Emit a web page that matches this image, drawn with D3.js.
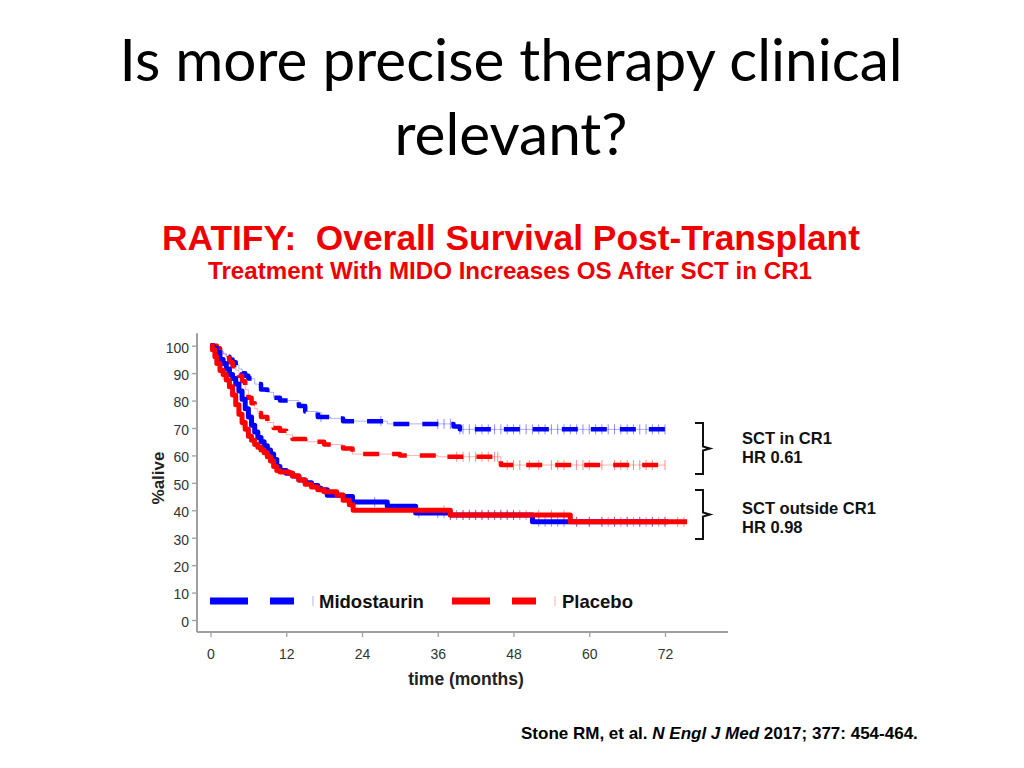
<!DOCTYPE html>
<html><head><meta charset="utf-8">
<script src="https://cdn.jsdelivr.net/npm/d3@7"></script>
<style>body{margin:0;background:#fff}</style>
</head><body>
<svg id="c" width="1024" height="768"></svg>
<script>
// ---------- data ----------
const titleLines = ["Is more precise therapy clinical", "relevant?"];
const subTitle = "RATIFY:  Overall Survival Post-Transplant";
const subTitle2 = "Treatment With MIDO Increases OS After SCT in CR1";
const xTicks = [0, 12, 24, 36, 48, 60, 72];
const yTicks = [0, 10, 20, 30, 40, 50, 60, 70, 80, 90, 100];
const xLabel = "time (months)";
const yLabel = "%alive";
const seriesNames = ["Midostaurin", "Placebo"];
const groupLabels = [["SCT in CR1", "HR 0.61"], ["SCT outside CR1", "HR 0.98"]];

// Midostaurin, SCT in CR1 (blue dashed)
const midoCR1Times = [0, 0.5, 1, 1.5, 2, 2.5, 3, 3.5, 4, 4.5, 5, 5.5, 6, 7, 8, 9, 10, 11, 14, 15, 17, 19, 21, 28, 38.5, 39.5];
const midoCR1Surv  = [100, 99.5, 99, 98, 97, 96, 95, 94, 93, 91.5, 90, 89, 88, 86, 84, 83, 81, 80, 78, 76, 74, 73.5, 72.5, 71.5, 70.5, 69.5];
const midoCR1End = 72;
const midoCR1Censor = [17.5, 27, 36, 37, 38, 39.5, 40, 41, 42, 43, 44, 45, 46, 47, 48, 49, 50, 51, 52, 53, 54, 55, 56, 57, 58, 59, 60, 61, 62, 63, 64, 65, 66, 67, 68, 69, 70, 71, 72];

// Placebo, SCT in CR1 (red dashed)
const placCR1Times = [0, 1, 1.5, 2, 2.5, 3, 3.5, 4, 4.5, 5, 5.5, 6, 6.5, 7, 7.5, 8, 9, 10, 11, 12, 13, 15, 18, 21, 22.5, 30, 36, 46];
const placCR1Surv  = [100, 99, 98, 97, 95.5, 94, 92.5, 91, 89, 87, 84, 81, 79, 77, 75.5, 74, 72, 70, 69, 67.5, 66, 65, 64, 62.5, 60.5, 60, 59.5, 56.5];
const placCR1End = 72;
const placCR1Censor = [1, 39, 40, 41, 42, 43, 44, 45, 45.5, 47, 48, 49, 50.5, 52, 54, 55, 56, 58, 59, 60, 62, 64, 65, 66, 67, 68, 69, 70, 72];

// Midostaurin, SCT outside CR1 (blue solid)
const midoOutTimes = [0, 0.5, 1, 1.5, 2, 2.5, 3, 3.5, 4, 4.5, 5, 5.5, 6, 6.5, 7, 7.5, 8, 8.5, 9, 9.5, 10, 10.5, 11, 12, 13, 14, 15, 16, 17, 17.5, 18.5, 21, 22.5, 28, 32.5, 38, 51];
const midoOutSurv  = [100, 99, 97.5, 95, 93.5, 91.5, 89.5, 88, 86, 83.5, 80.5, 77, 74, 71, 68.5, 66.5, 65, 63.5, 62, 60.5, 58.5, 56, 54.5, 53.5, 52.5, 51, 50, 49, 48, 47.5, 45.5, 45, 43, 41.5, 39, 38.3, 35.8];
const midoOutEnd = 72.5;
const midoOutCensor = [26, 33, 36, 37, 38, 39, 40, 41, 42, 43, 44, 45, 46, 47, 48, 49, 52, 53, 54, 55, 56, 58, 60, 62, 64, 66, 68, 70, 72];

// Placebo, SCT outside CR1 (red solid)
const placOutTimes = [0, 0.3, 0.7, 1, 1.5, 2, 2.5, 3, 3.5, 4, 4.5, 5, 5.5, 6, 6.5, 7, 7.5, 8, 8.5, 9, 9.5, 10, 10.5, 11, 12.5, 13, 14, 15, 16, 17, 18, 20, 21, 22, 22.6, 38, 57];
const placOutSurv  = [100, 98.5, 96, 93.5, 91, 89.5, 87.5, 85, 82, 78.5, 75, 72, 69.5, 67, 65.5, 64, 63, 62, 61, 59.5, 58, 56, 54.5, 54, 53.5, 52.5, 51, 49.5, 48.5, 47.5, 46.8, 45.6, 43.7, 42, 40, 38.3, 35.8];
const placOutEnd = 75.5;
const placOutCensor = [2, 5, 37, 38, 40, 41, 42, 43, 44, 45, 46, 47, 48, 50, 52, 54, 56, 58, 60, 62, 63, 64, 65, 66, 67, 68, 69, 70, 71, 72, 74, 75];

const BLUE = "#0000ff", RED = "#ff0000";

// ---------- drawing ----------
const svg = d3.select("#c");
svg.append("rect").attr("width", 1024).attr("height", 768).attr("fill", "#fff");

// titles
const tf = "Lato, 'Open Sans', sans-serif";
svg.append("text").attr("x", 511).attr("y", 81).attr("text-anchor", "middle")
  .attr("font-family", tf).attr("font-size", 58).attr("fill", "#000")
  .attr("textLength", 783).attr("lengthAdjust", "spacingAndGlyphs").text(titleLines[0]);
svg.append("text").attr("x", 511).attr("y", 155).attr("text-anchor", "middle")
  .attr("font-family", tf).attr("font-size", 58).attr("fill", "#000")
  .attr("textLength", 233).attr("lengthAdjust", "spacingAndGlyphs").text(titleLines[1]);

const af = "'Liberation Sans', Arial, sans-serif";
svg.append("text").attr("x", 511).attr("y", 250).attr("text-anchor", "middle")
  .attr("font-family", af).attr("font-weight", "bold").attr("font-size", 35).attr("fill", "#ee0000")
  .style("white-space", "pre").attr("xml:space", "preserve")
  .attr("textLength", 698).attr("lengthAdjust", "spacingAndGlyphs").text(subTitle);
svg.append("text").attr("x", 510).attr("y", 279).attr("text-anchor", "middle")
  .attr("font-family", af).attr("font-weight", "bold").attr("font-size", 24).attr("fill", "#ee0000")
  .attr("textLength", 604).attr("lengthAdjust", "spacingAndGlyphs").text(subTitle2);

// scales
const x = d3.scaleLinear().domain([0, 72]).range([210.5, 665]);
const y = d3.scaleLinear().domain([0, 100]).range([620, 345.7]);

// axes
const axisColor = "#a0a0a0";
const yAx = svg.append("g").attr("transform", "translate(197,0)")
  .call(d3.axisLeft(y).tickValues(yTicks).tickSize(5).tickPadding(3));
yAx.select(".domain").remove();
yAx.selectAll(".tick line").attr("stroke", axisColor).attr("stroke-width", 1.3);
yAx.selectAll(".tick text").attr("font-family", af).attr("font-size", 14).attr("fill", "#333").attr("dy", "0.45em");
svg.append("line").attr("x1", 197).attr("x2", 197).attr("y1", y(104.5)).attr("y2", 632)
  .attr("stroke", axisColor).attr("stroke-width", 2);

const xAx = svg.append("g").attr("transform", "translate(0,632)")
  .call(d3.axisBottom(x).tickValues(xTicks).tickSize(5).tickPadding(12));
xAx.select(".domain").remove();
xAx.selectAll(".tick line").attr("stroke", axisColor).attr("stroke-width", 1.3);
xAx.selectAll(".tick text").attr("font-family", af).attr("font-size", 14).attr("fill", "#333");
svg.append("line").attr("x1", 197).attr("x2", x(82)).attr("y1", 632).attr("y2", 632)
  .attr("stroke", axisColor).attr("stroke-width", 2);

svg.append("text").attr("x", 466).attr("y", 685).attr("text-anchor", "middle")
  .attr("font-family", af).attr("font-weight", "bold").attr("font-size", 17.5).attr("fill", "#222").text(xLabel);
svg.append("text").attr("transform", "translate(164,478) rotate(-90)").attr("text-anchor", "middle")
  .attr("font-family", af).attr("font-weight", "bold").attr("font-size", 17).attr("fill", "#222").text(yLabel);

// KM curves
function stepPts(times, surv, end) {
  const p = times.map((t, i) => ({ t, v: surv[i] }));
  p.push({ t: end, v: surv[surv.length - 1] });
  return p;
}
function survAt(times, surv, t) {
  const i = d3.bisectRight(times, t) - 1;
  return surv[Math.max(0, i)];
}
const line = d3.line().x(d => x(d.t)).y(d => y(d.v)).curve(d3.curveStepAfter);

const curves = [
  { times: midoCR1Times, surv: midoCR1Surv, end: midoCR1End, censor: midoCR1Censor, color: BLUE, dash: "16,13", w: 4.5 },
  { times: placCR1Times, surv: placCR1Surv, end: placCR1End, censor: placCR1Censor, color: RED, dash: "16,13", w: 4.5 },
  { times: midoOutTimes, surv: midoOutSurv, end: midoOutEnd, censor: midoOutCensor, color: BLUE, dash: null, w: 5 },
  { times: placOutTimes, surv: placOutSurv, end: placOutEnd, censor: placOutCensor, color: RED, dash: null, w: 5 }
];

curves.forEach(c => {
  const g = svg.append("g");
  g.append("path").datum(stepPts(c.times, c.surv, c.end)).attr("d", line)
    .attr("fill", "none").attr("stroke", c.color).attr("stroke-width", c.w)
    .attr("stroke-dasharray", c.dash).attr("stroke-linejoin", "round");
  g.append("path").datum(stepPts(c.times, c.surv, c.end)).attr("d", line)
    .attr("fill", "none").attr("stroke", c.color).attr("stroke-width", 1).attr("stroke-opacity", 0.3);
  g.selectAll("line.cens").data(c.censor).join("line").attr("class", "cens")
    .attr("x1", d => x(d)).attr("x2", d => x(d))
    .attr("y1", d => y(survAt(c.times, c.surv, d)) - 5)
    .attr("y2", d => y(survAt(c.times, c.surv, d)) + 5)
    .attr("stroke", c.color).attr("stroke-width", 1).attr("stroke-opacity", 0.45);
});

// legend
const legY = 601;
const legItems = [
  { name: seriesNames[0], color: BLUE, x0: 210, tx: 319 },
  { name: seriesNames[1], color: RED, x0: 452, tx: 562 }
];
legItems.forEach(l => {
  svg.append("line").attr("x1", l.x0).attr("x2", l.x0 + 84).attr("y1", legY).attr("y2", legY)
    .attr("stroke", l.color).attr("stroke-width", 7).attr("stroke-dasharray", "38,22");
  svg.append("line").attr("x1", l.x0 + 103).attr("x2", l.x0 + 103).attr("y1", legY - 5).attr("y2", legY + 5)
    .attr("stroke", l.color).attr("stroke-width", 1).attr("stroke-opacity", 0.3);
  svg.append("text").attr("x", l.tx).attr("y", legY + 7)
    .attr("font-family", af).attr("font-weight", "bold").attr("font-size", 18.5).attr("fill", "#111").text(l.name);
});

// brackets
function bracket(top, bot) {
  const xv = 703, mid = (top + bot) / 2;
  const p = d3.path();
  p.moveTo(695, top); p.lineTo(xv, top); p.lineTo(xv, mid - 2);
  p.lineTo(710, mid); p.lineTo(xv, mid + 2); p.lineTo(xv, bot); p.lineTo(695, bot);
  svg.append("path").attr("d", p.toString()).attr("fill", "none").attr("stroke", "#111").attr("stroke-width", 2);
}
bracket(423, 474);
bracket(490, 539);

const gl = [[444, 463], [514, 533]];
groupLabels.forEach((lines, i) => {
  lines.forEach((t, j) => {
    svg.append("text").attr("x", 742).attr("y", gl[i][j])
      .attr("font-family", af).attr("font-weight", "bold").attr("font-size", 16.5).attr("fill", "#111").text(t);
  });
});

// citation
const cite = svg.append("text").attr("x", 521).attr("y", 739)
  .attr("font-family", af).attr("font-weight", "bold").attr("font-size", 17).attr("fill", "#000");
cite.append("tspan").text("Stone RM, et al. ");
cite.append("tspan").attr("font-style", "italic").text("N Engl J Med");
cite.append("tspan").text(" 2017; 377: 454-464.");
</script>
</body></html>
